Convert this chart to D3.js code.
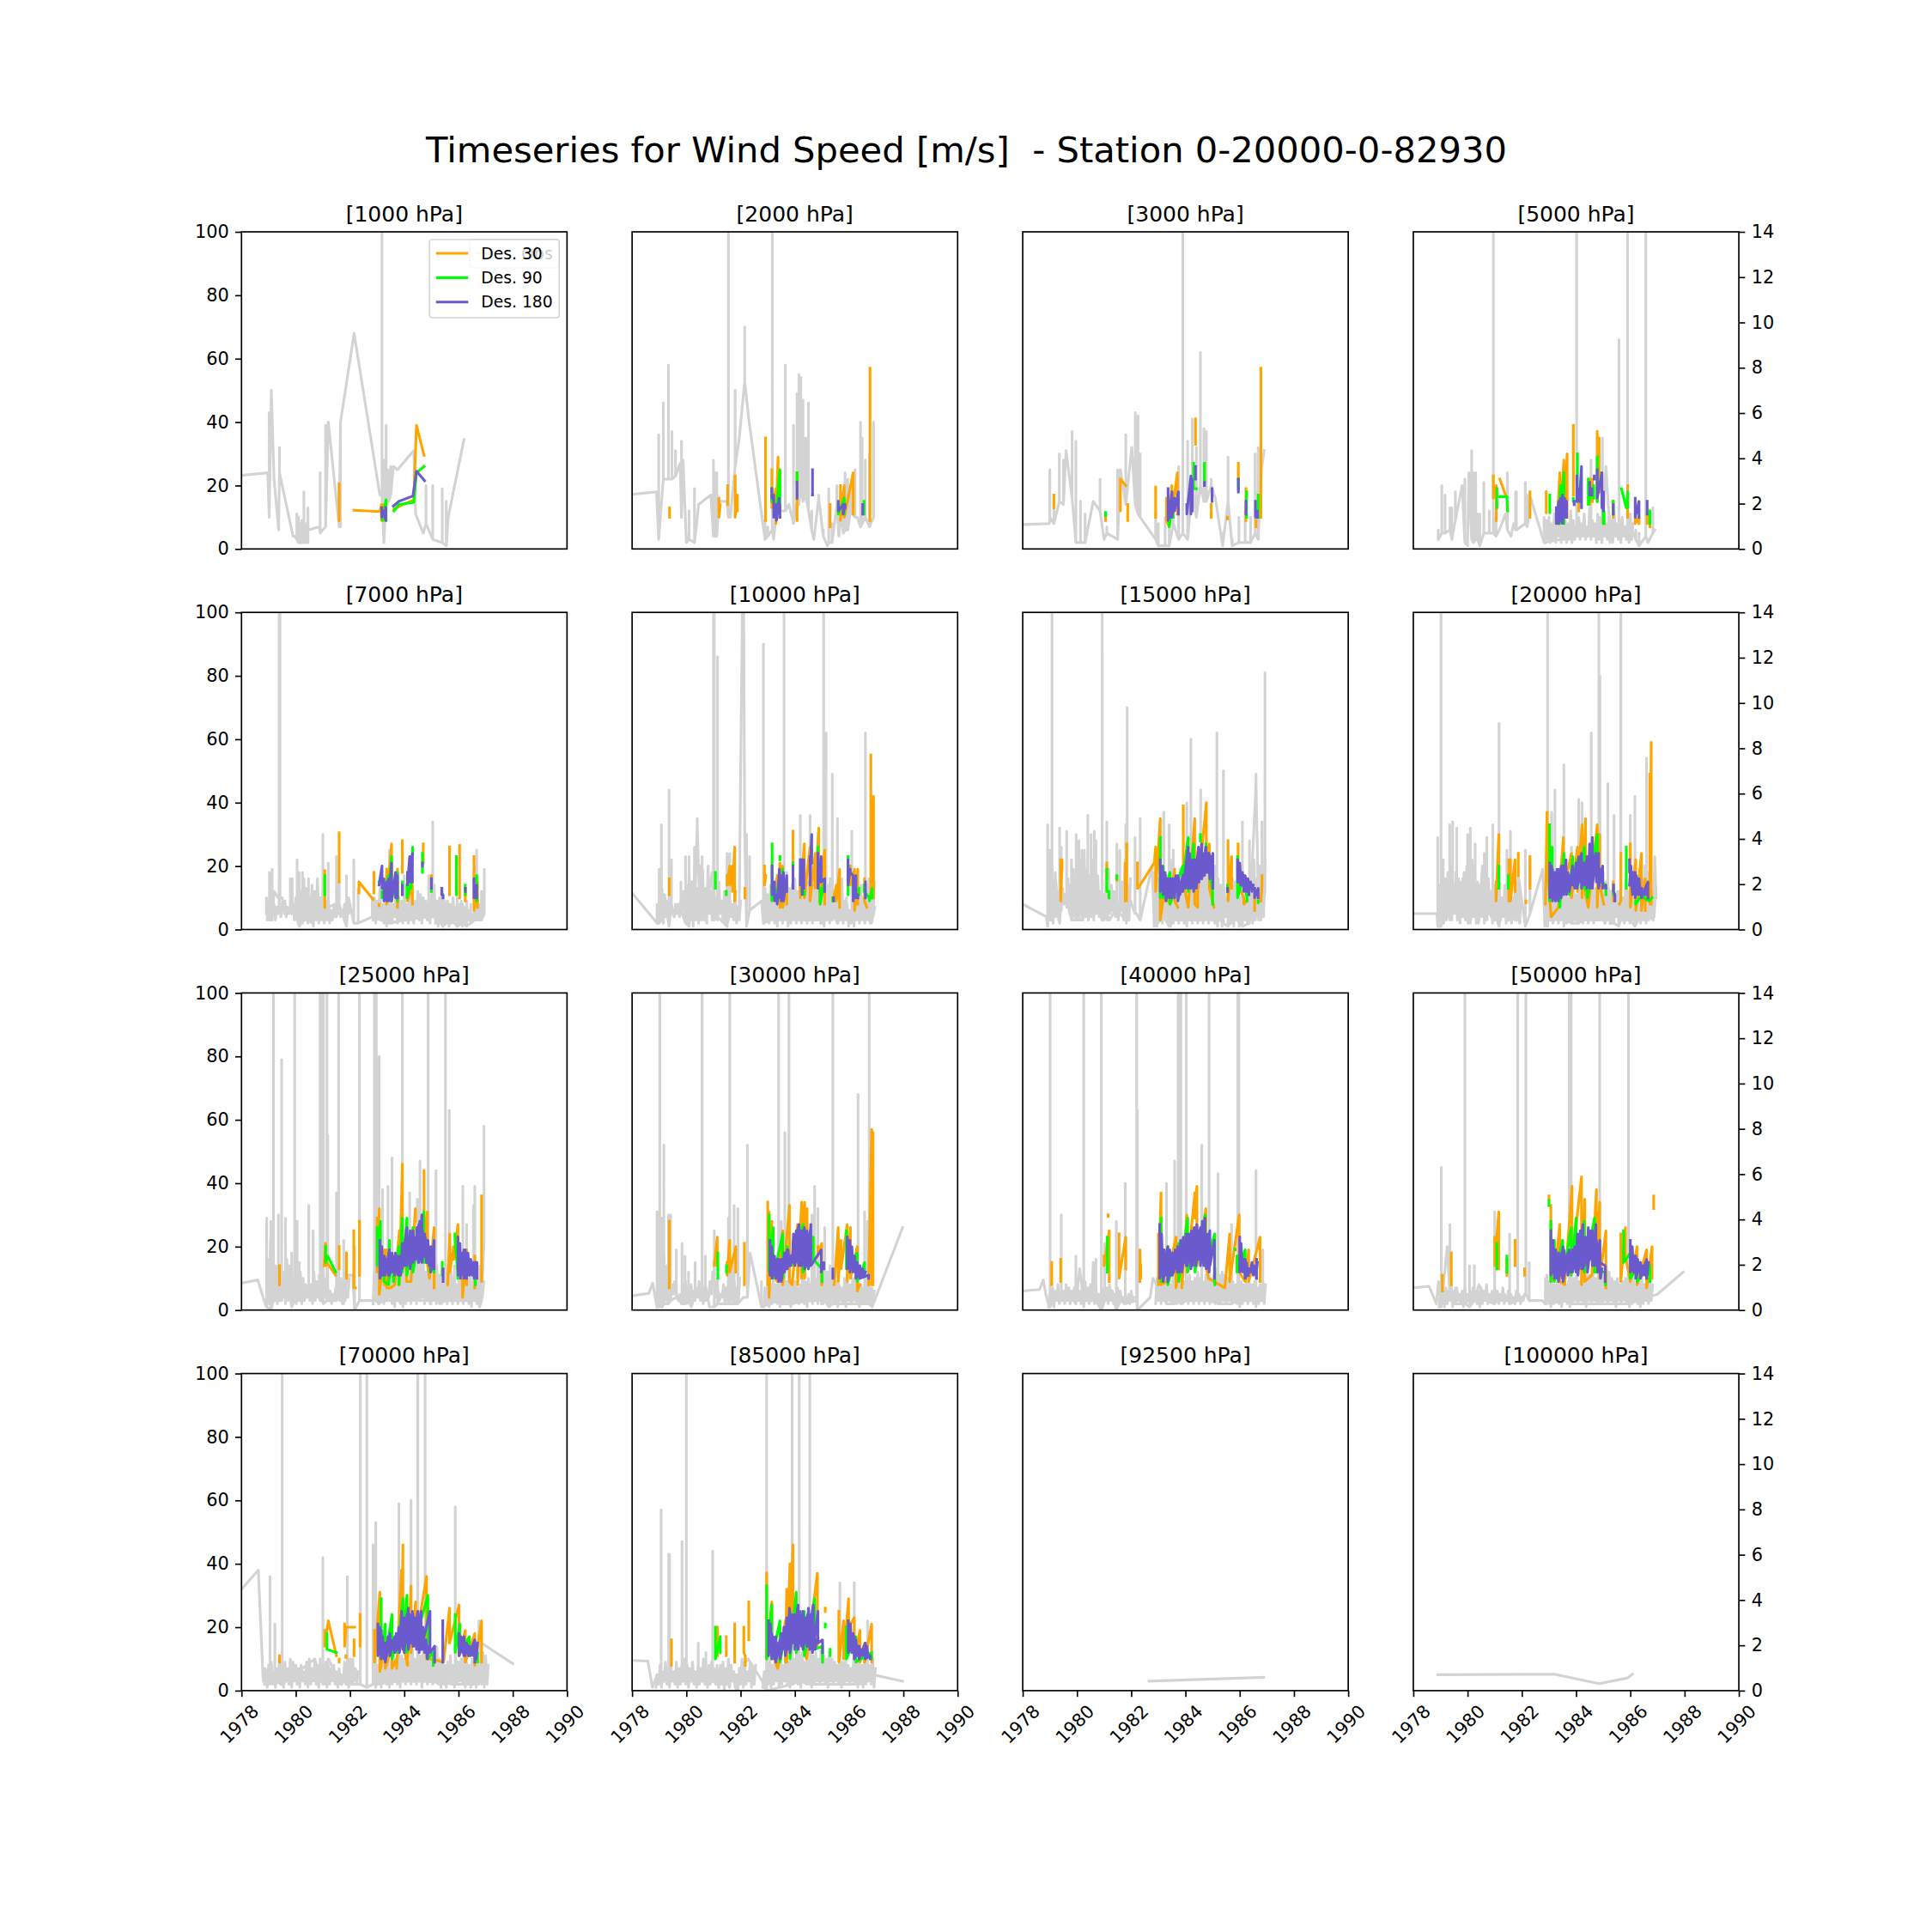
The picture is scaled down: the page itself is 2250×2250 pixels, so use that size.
<!DOCTYPE html>
<html><head><meta charset="utf-8">
<script src="https://cdn.jsdelivr.net/npm/d3@7"></script>
<style>html,body{margin:0;background:#fff}text{font-family:"DejaVu Sans";white-space:pre}</style>
</head><body><div id="chart"></div>
<script>
// Each entry: [year-1900, value, value...]; null breaks the line.
const levels=[1000,2000,3000,5000,7000,10000,15000,20000,25000,30000,40000,50000,70000,85000,92500,100000];
const xTicks=[1978,1980,1982,1984,1986,1988,1990];
const yTicks=[0,20,40,60,80,100];
const yTicksRight=[0,2,4,6,8,10,12,14];

const gray_1000=[[78,23.2],[78.97,24],[79.02,43,10],[79.1,50],[79.2,22],[79.37,6],[79.4,32,24],[79.9,4],[79.97,4],[80.04,11,3],[80.1,10,2],[80.15,8,2],[80.22,9,2],[80.3,18,2],[80.38,8,2],[80.45,13,2,6],[80.87,7],[80.9,24,5],[81.1,39,7],[81.2,40],[81.6,21,7],[81.65,7,40],[82.15,68],[83.1,17],[83.18,130,17],[83.25,28,2],[83.33,39,16],[83.42,25,15],[83.5,26,17],[83.6,26],[83.75,25],[84.35,31],[84.42,11],[84.7,5],[84.8,20,8],[85.05,20,3],[85.4,19,2],[85.55,15,1],[85.62,10],[86.2,34.5]];
const orange_1000=[[81.6,20.5,9],null,[82.15,12.2],[83.1,11.8],[83.16,14,9],[83.25,14,9],[83.32,13],null,[83.62,12.5],[83.95,14],[84.35,15.5],[84.45,39],[84.73,29.5]];
const green_1000=[[83.2,10,9],[83.33,15.5,9],null,[83.62,12],[83.8,14],[84.35,14.7],[84.45,24],[84.73,26]];
const purple_1000=[[83.17,13,10],[83.25,12],[83.32,9,13],null,[83.6,13.5],[83.8,15],[84.32,16.7],[84.45,24.5],[84.75,21.5]];

const gray_2000=[[78,17.2],[78.9,18],[78.98,36,3],[79.15,46,22],[79.34,58,22],[79.47,37,22],[79.6,31,23],[79.77,27],[79.82,34,10],[79.88,28],[80,4,2],[80.1,12,3],[80.3,19,2],[80.38,8],[80.45,14],[80.9,17],[81,28,4],[81.05,24,4],[81.12,24,4],[81.2,15],[81.5,15],[81.55,130,10],[81.62,10],[81.8,50,26],[81.95,35],[82.15,70,53],[82.3,41],[82.9,9,3],[83,7,4],[83.17,130,6],[83.22,3],[83.3,16,10],[83.42,20,12],[83.65,58,12],[83.78,14],[83.95,39,8],[84.08,49,15],[84.15,55,14],[84.22,54,20],[84.3,47,15],[84.4,35,17],[84.5,46,12],[84.62,12,6],[84.7,5,3],[84.88,17,16],[85.05,6,4],[85.2,1],[85.25,19,2],[85.37,8,2],[85.55,20,14],[85.62,4],[85.72,12],[85.78,18,5],[85.85,24,6],[85.95,22,6],[86.05,20,12],[86.22,25,10],[86.3,10],[86.42,40,7],[86.48,35,8],[86.6,28,10],[86.75,30,7],[86.9,40,10]];
const orange_2000=[[79.38,13,10],null,[81.2,16,10],[81.25,14],null,[81.52,20,14],null,[81.8,23,10],[81.88,17,12],null,[82.92,35,9],null,[83.15,25,13],[83.3,19,8],[83.38,29,14],null,[84.08,24,9],null,[84.65,17],null,[85.3,14,7],null,[85.68,20,9],[85.82,20,10],[86.15,24,11],null,[86.77,57,9]];
const green_2000=[[83.15,19,15],[83.3,14,10],[83.45,25,10],null,[84.08,24,21],null,[85.6,14,11],[85.82,16,11],null,[86.55,15,11]];
const purple_2000=[[83.15,19,16],[83.22,17,10],[83.32,14,9],[83.42,16,12],[83.45,14,10],null,[84.08,21,16],null,[84.65,25,17],null,[85.6,15,12],[85.78,14,11],[85.85,14,13],null,[86.5,14,11]];

const gray_3000=[[78,7.7],[78.98,8],[79,25,10],[79.15,15,8],[79.35,30,15],[79.5,28,14],[79.6,31],[79.82,37,16],[79.96,34,2],[80.13,15,2],[80.3,11,2],[80.6,15],[80.85,22,12],[81,3],[81.1,7,5],[81.5,25,3],[81.6,25],[81.8,36,14],[82.02,32],[82.15,43,14],[82.25,42,11],[82.33,30,10],[82.9,12,3],[83,8,1],[83.15,1],[83.25,10,1],[83.4,14,1],[83.55,18,8],[83.75,26,3],[83.9,130,5],[84.08,34,3],[84.25,41,20],[84.4,32,10],[84.55,62,20],[84.68,38,15],[84.77,37,15],[84.95,22,20],[85.1,16],[85.37,5,1],[85.57,29,15],[85.72,3,1],[85.97,10,2],[86.2,12,2],[86.4,10,2],[86.57,30,5],[86.68,32,3],[86.8,25],[86.9,31]];
const orange_3000=[[79.15,17,13],null,[81.05,11,9],null,[81.6,22,12,22],[81.8,20],null,[81.87,14,9],null,[82.9,19.5,10],null,[83.3,16,9],[83.4,7,10],[83.5,20,11],[83.7,24,11],null,[84.37,41,33],null,[84.95,14,10],null,[85.55,10,9.5],null,[85.95,27,22],null,[86.23,19,9],null,[86.6,9,7],null,[86.78,57,10]];
const green_3000=[[81.05,11.5,10.5],null,[83.4,13,7],[83.55,15,10],null,[84.3,27,19],[84.4,19],null,[84.7,27,21],null,[85.95,22,19],null,[86.25,18,10],null,[86.68,17,10]];
const purple_3000=[[83.36,19,9],[83.42,15,10],[83.5,18,10],[83.6,16,12],[83.74,18,11],null,[84.05,14,11],[84.2,23,11],[84.25,22,12],null,[84.37,26,22],null,[84.7,21,20],null,[84.98,19,15],null,[85.95,22,18],null,[86.23,15,11],null,[86.58,15,10],[86.65,12,10]];

const gray_5000=[[78.92,6,3],[79.05,20,5],[79.17,17,5],[79.35,13,6],[79.42,13,3],[79.55,18,9],[79.8,20],[79.9,22,2],[80,1],[80.05,24],[80.15,31,3],[80.22,24,2],[80.3,24,3],[80.37,11,3],[80.45,11,1],[80.6,21,5],[80.8,12,5],[80.95,130,5],[81.05,10,4],[81.17,6],[81.4,11],[81.47,24,6],[81.6,4],[81.7,8],[81.77,18,6],[81.8,18,6],[82.13,21,8],[82.2,17,7],[82.33,16],[82.82,10,2],[84.02,130,4],[84.55,28,5],[84.97,35,5],[85.1,26],[85.2,12],[85.35,2],[85.42,8],[85.5,5],[85.58,66,5],[85.72,6],[85.9,130,5],[86,9,3],[86.12,5],[86.2,6,3],[86.32,5,1],[86.57,130,4],[86.65,3,2],[86.83,13,5],[86.9,6]];
const orange_5000=[[80.95,23,16],[81.06,20,9],null,[81.19,22],[81.4,17],null,[82.3,18,10],null,[82.9,18,11.5],null,[83.3,12,8],[83.4,24,8],[83.55,28,8],[83.67,30,10],null,[83.9,39,17],null,[84.1,16,12],null,[84.5,22,14],[84.6,22,15],null,[84.78,37,15],[84.85,35,18],null,[85.03,9,8],null,[85.37,15,10],null,[85.9,20,10],null,[86.18,11,8],[86.32,10,8],null,[86.62,11,8],[86.72,10,7]];
const green_5000=[[81.08,19,13],null,[81.19,16.5],[81.45,16.5],[81.47,12],null,[83.03,17,11.5],null,[83.35,8,9],[83.43,20,8],[83.55,24,8],null,[83.9,16,15],null,[84.05,30,15],null,[84.45,22,14],[84.65,20,16],null,[84.78,29,15],null,[84.95,24,14],[85,12,8],[85.03,12,8],null,[85.37,15,11],null,[85.67,19],[85.85,13],[85.9,18,13],null,[86.72,12,8]];
const purple_5000=[[83.27,13,8],[83.36,15,8],[83.43,16,9],[83.5,17,8],[83.58,16,10],[83.65,15,10],null,[83.93,15,14],null,[84.03,23,15],[84.12,19,15],[84.2,26,13],null,[84.5,21,17],[84.58,19,17],null,[84.67,23,22],null,[84.78,25,16],[84.95,24,13],[85.01,18,12],null,[85.37,14,11],null,[86.18,16,10],[86.32,15,10],null,[86.62,15,11]];

const gray_7000=[[78.92,10,5],[79.03,18,3],[79.13,19,3],[79.2,12],[79.35,10],[79.39,130,10],[79.42,130,10],[79.5,10],[79.58,5,5],[79.8,16,6],[79.87,16,6],[80.05,22,3],[80.13,18,1],[80.25,18,3],[80.35,12,3],[80.47,16,3],[80.6,2],[80.67,7,5],[80.9,7,4],[81,30,4],[81.2,21,7],[81.45,8],[81.5,23,4],[81.6,15,8],[81.87,17,1],[81.95,10],[82.14,22,2],[82.2,2],[82.3,13,2],[82.82,10,4],[83.45,25,2],[84,17,3],[84.9,17,4],[85.05,34,4],[85.15,4],[85.35,2],[85.42,10,1],[85.55,8,2],[85.75,8,3],[85.95,10,1],[86.15,8,2],[86.3,9,1],[86.45,8,2],[86.6,20,3],[86.67,25,3],[86.75,8,3],[86.85,12,3],[86.95,19,5]];
const orange_7000=[[81.07,18.5,7],null,[81.6,30.5,15],null,[82.33,11.5,15],[82.85,9.5],null,[82.88,18,11.5],null,[83.07,8,7.5],null,[83.35,19,8],[83.53,27,9],null,[83.75,19,7],null,[83.93,28,18],null,[84.12,13,9],[84.3,14,8],null,[84.7,27,21],null,[85,17,14],null,[85.67,26,11],null,[86.04,26.5,10],null,[86.25,13,9],null,[86.57,23,6],[86.7,15,7]];
const green_7000=[[81.07,17,11],null,[83.07,15],null,[83.18,12,10],[83.43,17,10],[83.53,23,9],[83.75,18,9],null,[83.93,15,13],null,[84.1,14,10],[84.25,15,13],[84.31,26,24],null,[84.67,24,18],null,[85,13,12],null,[85.92,23,11],null,[86.25,14,11],null,[86.67,17,9]];
const purple_7000=[[83.07,14],[83.18,20,13],[83.25,16,9],[83.35,15,9],[83.43,16,9],[83.53,21,9],[83.68,18,10],[83.75,17,10],null,[83.93,14,11],null,[84.12,18,14],[84.2,23,15],[84.3,24,15],null,[84.67,21,20],null,[85,16,13],null,[85.38,13,11],[85.43,11,10],null,[86.25,13,12],null,[86.57,16,10],[86.67,14,10]];

const gray_10000=[[78,11.5],[78.92,8,2],[79,19,2],[79.08,33,3],[79.2,10],[79.36,44,1],[79.45,22,8],[79.55,5,4],[79.7,8],[79.8,15,6],[79.97,23,2],[80.1,23,1],[80.2,15],[80.3,26,3],[80.4,35,33],[80.5,20,5],[80.58,23,5],[80.65,10,3],[80.95,18],[81,130,3],[81.03,130,3],[81.15,86,4],[81.5,24,1],[81.6,24,8],[81.75,5],[81.95,7],[82.1,130],[82.15,30],[82.22,30,1],[82.33,23,6],[82.77,9],[82.84,90,2],[83.6,130,5],[84.2,36,3],[84.56,36,3],[85.06,130,3],[85.15,62,3],[85.38,49,5],[85.57,35,2],[85.7,5],[85.9,10,5],[86.1,31,5],[86.6,62,5],[86.82,15,2],[86.95,7]];
const orange_10000=[[79.37,16,11],null,[81.5,17,14],[81.6,20,14],[81.7,20,12],[81.78,26,9],[81.8,12],null,[82.16,13,10],null,[82.88,20,14],[82.93,17],null,[83.35,17,9],[83.45,21,7],[83.55,20,7],[83.7,15,8],null,[83.93,31,20],null,[84.2,16,10],[84.35,27,10],[84.56,26,9],[84.75,24,13],[84.88,32,19],[84.93,8],[85.1,25,8],null,[85.4,10,9],[85.53,14,9],[85.65,19,7],null,[86.04,20,14],[86.2,19,6],[86.32,19,8],null,[86.57,16,9],[86.65,7],null,[86.8,55,10],[86.9,42,10]];
const green_10000=[[81.07,18,13],null,[81.47,12,11],null,[83.16,27,13],[83.15,14,9],[83.3,13,10],[83.37,9],null,[83.45,23,22],null,[83.55,19,10],null,[83.93,21,19],null,[84.25,22,12],[84.35,12,11],null,[84.62,25,24],null,[84.85,26,24],null,[84.93,13,8],[85.1,16,15],null,[85.4,10,9],null,[85.96,23,11],null,[86.36,13,11],null,[86.55,14,12],[86.75,10,9],[86.85,13,10]];
const purple_10000=[[83.16,20,11],[83.25,15,9],[83.35,11,8],[83.43,19,10],[83.5,17,9],[83.58,18,9],[83.7,17,12],null,[83.93,20,13],null,[84.2,22,14],[84.27,22,11],[84.33,22,13],null,[84.56,23,14],[84.62,30,21],null,[84.85,24,13],[84.97,23,15],[85.1,16,12],null,[85.43,10,9],null,[85.96,22,14],[86.04,19,18],[86.15,17,9],[86.25,17,10],[86.32,11,10],null,[86.6,15,10]];

const gray_15000=[[78,8],[78.87,4],[78.92,33,1],[79,25],[79.08,130,3],[79.2,18,17],[79.36,32,2],[79.42,26,9],[79.62,31,10],[79.8,22,3],[79.97,30,3],[80.07,28,3],[80.18,25,3],[80.3,19],[80.4,36,8],[80.52,30,5],[80.64,31,6],[80.7,28,8],[80.93,130,3],[81,3],[81.1,34,5],[81.2,3],[81.47,27,7],[81.58,25,5],[81.8,33,3],[81.85,70,12],[82.14,29,5],[82.2,5],[82.33,35,3],[82.77,20],[82.85,18,1],[83.2,37,4],[83.4,33,1],[83.55,25,3],[84.05,40,3],[84.2,60,3],[84.56,44,3],[85.16,62,10],[85.27,3],[85.4,50,2],[85.57,12,1],[85.8,10,4],[86.1,34,1],[86.36,28,2],[86.6,49,46],[86.7,10,3],[86.82,34,5],[86.93,81,12]];
const orange_15000=[[79.4,22,9],[79.45,22,19],null,[81.1,21,16],null,[81.47,16.5,15.5],null,[81.83,27,9],[81.78,21,9],null,[82.23,21,13],[82.25,13],[82.85,21],[82.9,26,12],[83.07,35,3],[83.2,11],[83.43,8],[83.6,19,9],[83.72,7],null,[83.92,39,15],[84.1,7],[84.34,35,8],[84.45,7,12],[84.77,40,18],[84.88,27,13],[85.05,7],null,[85.57,28,9],[85.7,23,13],null,[85.94,27,14],[86.15,10,8],[86.25,9],null,[86.55,13,6],null,[86.82,17,14],[86.78,9]];
const green_15000=[[81.1,19,12],[81.18,12,10],null,[81.47,17,16],null,[83.07,29,10],[83.18,20,10],[83.43,18,8],[83.9,20,16],[84.1,29,12],[84.3,27,22],null,[84.55,30,28],null,[84.75,27,25],[85,12,8],null,[85.55,14,12],null,[85.92,23,10],[86.15,17,15],[86.27,10,9],null,[86.68,9,8.5]];
const purple_15000=[[83.07,22,12],[83.18,18,11],[83.28,15,9],[83.43,16,10],[83.5,16,10],[83.6,16,12],[83.72,17,9],[83.9,17,12],[84.1,26,13],[84.2,22,13],[84.3,22,12],[84.48,26,15],[84.6,27,16],[84.65,23,17],[84.75,26,18],[84.87,24,18],[85.01,24,13],null,[85.55,13,12],null,[85.92,22,15],[86.03,18,14],[86.15,17,12],[86.25,15,12],[86.34,13,11],null,[86.55,13,10],[86.68,13,10]];

const gray_20000=[[78,5],[78.87,5],[78.9,29,1],[79.02,130,1],[79.1,22,3],[79.2,15],[79.34,33,3],[79.45,34,6],[79.6,32,13],[79.82,16,5],[79.88,4],[80,30,3],[80.1,32,2],[80.22,20],[80.28,27,5],[80.4,11,2],[80.55,20],[80.62,24,5],[80.71,29,7],[80.93,33,3],[81,6],[81.16,65,1],[81.25,7],[81.45,25,3],[81.52,3],[81.58,31,5],[81.75,5,3],[81.87,17],[82.13,25,1],[82.3,22,5],[82.77,19],[82.85,12,1],[82.95,130,3],[83.1,37,3],[83.22,44,4],[83.55,52,3],[83.83,26,2],[84.1,41,2],[84.22,40,3],[84.56,62,3],[84.84,130,3],[84.88,80,3],[85.17,46,12],[85.28,2],[85.4,36,2],[85.57,12,1],[85.65,130,3],[85.85,14,3],[86,36,3],[86.17,42,1],[86.6,54,8],[86.7,14,4],[86.85,3],[86.9,23],[86.95,10]];
const orange_20000=[[81.05,15,9],[81.15,30,13],null,[81.52,22,9],[81.58,22,9],[81.75,22,12],null,[81.87,24,17],null,[82.15,9,8.5],null,[82.3,23,13],null,[82.87,8],[82.93,37,21],[83.08,4],[83.35,7],[83.53,29,12],[83.83,24,10],[84.05,26,12],[84.22,33,10],[84.35,35,11],[84.45,7],[84.78,33,7],[84.87,30,14],[85.02,8],null,[85.37,15,9],null,[85.65,24,9],[85.6,8],null,[86,27,7],[86.2,22,6],[86.41,24,6],[86.55,16,6],null,[86.72,49,8],[86.77,59,8]];
const green_20000=[[81.15,20,13],null,[81.5,17,13],null,[83.02,33,9],[83.12,26,12],[83.4,9,7],[83.55,24,14],[83.75,17,11],[83.87,23,17],[84.05,22,13],[84.3,26,13],[84.42,12,10],[84.78,30,16],[85.1,14,11],null,[85.38,13,11],null,[85.85,26,13],null,[86.2,9,8],[86.5,12,10],[86.68,9],[86.8,10]];
const purple_20000=[[83.03,21,10],[83.13,19,9],[83.24,18,9],[83.35,19,9],[83.45,20,10],[83.55,20,11],[83.63,22,12],[83.75,15,12],[83.87,20,15],[84.03,20,13],[84.2,24,13],[84.3,21,14],[84.4,22,13],[84.51,24,13],[84.6,29,13],[84.72,24,18],[84.83,24,13],[84.98,20,13],[85.1,14,13],null,[85.38,14,12],[85.43,11,9],null,[85.97,22,18],[86.08,18,11],[86.18,18,10],[86.3,16,11],[86.41,13,10],[86.5,12],[86.65,15,10]];

const gray_25000=[[78,8.5],[78.6,9.5],[78.87,2],[78.93,29,1],[79.08,28,0],[79.18,130,3],[79.36,30,3],[79.48,79,3],[79.62,29,8],[79.75,8],[79.85,18,1],[79.96,130,3],[80.05,28,3],[80.13,15,3],[80.25,3],[80.48,33,5],[80.64,25,3],[80.8,5],[80.9,130,3],[80.97,130,3],[81.02,130,2],[81.15,130,3],[81.18,55,3],[81.5,37,3],[81.58,130,4],[81.77,22,2],[81.9,11],[82.1,11],[82.17,20,0],[82.35,130,3],[82.83,3],[82.9,130,3],[82.97,130,3],[83.07,80,2],[83.2,38,3],[83.4,39,3],[83.55,48,3],[83.93,130,3],[84.2,37,3],[84.48,35,5],[84.58,47,3],[84.88,130,3],[85.17,44,15],[85.3,2],[85.52,130,3],[85.66,63,3],[85.85,14,3],[86.16,39,3],[86.3,27,3],[86.55,33,3],[86.6,39,3],[86.7,4],[86.78,14,1],[86.85,3],[86.94,58,22]];
const orange_25000=[[79.4,14,8],null,[81.05,14],[81.1,21,14],[81.15,15],[81.47,11],null,[81.6,20,13],null,[81.87,18,10],null,[82.14,25,7],[82.2,7],null,[82.35,28,11],null,[83,29,12],[83.08,32,5],[83.27,19,8],[83.35,19,7],[83.5,7],[83.65,8],[83.82,25,8],[83.93,46,17],[84.08,12,9],[84.25,9],[84.41,32,28],null,[84.73,44,18],[84.85,31,15],[84.93,10],[85.1,26,7],null,[85.6,8],[85.68,24,12],[85.82,20,16],[85.98,27,18],[86.15,9,4],[86.3,19,8],null,[86.6,17,7],null,[86.85,36,9]];
const green_25000=[[81.1,20,15],[81.18,17],[81.47,12],null,[83,26,14],[83.12,28,10],[83.25,17,9],[83.43,8],[83.45,22,10],[83.6,16,9],[83.8,20,8],[83.93,29,12],[84.1,29,11],[84.32,26,12],[84.72,31,15],[84.95,15,12],[85.1,14,12],null,[85.4,15,11],null,[85.87,24,22],[85.97,12,10],null,[86.34,12,11],null,[86.62,14,8]];
const purple_25000=[[83.1,22,10],[83.18,16,11],[83.3,16,11],[83.45,19,11],[83.55,18,12],[83.65,16,11],[83.77,17,11],[83.87,17,11],[83.93,21,15],[84.1,26,14],[84.22,25,13],[84.33,25,15],[84.43,22,16],[84.54,27,15],[84.65,30,15],[84.75,24,17],[84.85,22,15],[84.98,19,12],[85.1,22,13],null,[85.43,13,9],null,[85.98,23,11],[86.07,18,10],[86.2,19,10],[86.3,18,10],null,[86.58,15,10],[86.68,15,10]];

const gray_30000=[[78,4.5],[78.62,5.3],[78.76,8.5],[78.85,4],[78.92,31,1],[79.02,130,1],[79.1,29,1],[79.17,52,2],[79.34,30,2],[79.42,30,3],[79.63,19,4],[79.84,21,2],[79.95,17,2],[80.08,12,3],[80.18,7,1],[80.32,15,5],[80.58,130,4],[80.7,17,8],[80.85,1],[81.03,25,1],[81.15,10,2],[81.55,29,2],[81.6,130,2],[81.76,33,2],[81.9,32,2],[82.1,4],[82.25,52,4],[82.35,18],[82.77,9,1],[83.4,130,3],[83.5,28,2],[83.63,56,2],[83.78,130,2],[84.63,30,3],[84.73,39,3],[84.85,32,3],[85.1,26,3],[85.25,1],[85.4,130,2],[85.6,24,2],[86.33,68,2],[86.57,31,2],[86.68,28,2],[86.74,130,2],[86.85,6,1],[87.97,26]];
const orange_30000=[[79.37,28,7],null,[81.03,15,14],[81.14,23,14],null,[81.5,15,11],[81.6,22,12],[81.82,20,12],null,[82.14,21,8],null,[83,34,8],[83.05,31,4],[83.15,28,12],[83.35,9],[83.55,25,8],[83.8,33,9],[83.9,8],[84.1,27,8],[84.25,34,10],[84.36,34,10],[84.45,32,14],null,[84.85,20,17],[84.99,21,8],null,[85.45,8],[85.6,26,9],[85.7,22,13],[85.93,27,9],[86.05,26,10],[86.3,20,6],[86.4,8],null,[86.72,8],[86.83,57,8],[86.88,56,8]];
const green_30000=[[81.16,18,10],null,[81.48,14,12],null,[83.05,30,12],[83.2,26,10],[83.55,24,10],[83.72,20,15],[83.87,16,14],[84.3,27,12],[84.5,15,13],[84.68,23,16],[85,13,9],null,[85.9,25,13],[86.3,18,9],[86.4,13,10],[86.57,15,11]];
const purple_30000=[[83.08,22,11],[83.16,18,10],[83.28,15,11],[83.4,16,9],[83.5,16,9],[83.62,18,12],[83.72,19,13],[83.83,17,14],[84.15,27,14],[84.25,25,14],[84.36,25,13],[84.46,24,14],[84.59,27,14],[84.97,19,12],[85.07,15,13],null,[85.4,13,10],null,[85.93,23,13],[86.03,22,12],[86.15,17,12],[86.25,15,10],[86.39,12,10],[86.72,11,10]];

const gray_40000=[[78,6],[78.62,6.5],[78.76,9.5],[78.85,5],[78.95,2],[79.01,130,1],[79.2,5,4],[79.42,30,3],[79.8,4],[79.96,17,2],[80.1,13],[80.25,130,3],[80.55,3],[80.6,15],[80.7,16,3],[80.9,130,0],[81.02,21,3],[81.12,7],[81.3,6],[81.45,28,0],[81.6,3],[81.78,40,2],[82.2,130,3],[82.23,63,0],[82.7,4],[82.8,10],[83.3,40,2],[83.6,47,2],[83.73,130,3],[83.83,130,2],[84.03,130,3],[84.6,52,3],[84.87,130,3],[85.2,43,2],[85.7,27,2],[85.93,130,3],[85.97,130,3],[86.6,44,3],[86.85,19,3],[86.9,5]];
const orange_40000=[[79.07,15,8],null,[79.4,16,9],null,[81.15,30,29.5],null,[81,17,14],[81.19,25,9],null,[81.55,24,10],[81.8,23,13],null,[82.35,14,10],[82.32,19,9],null,[83,24,8],[83.1,37,8],[83.3,9],[83.65,23,7],[83.87,22,7],[84.05,30,12],[84.35,37,29],[84.42,39,14],[84.75,32,14],[84.85,10],[85.45,7],[85.63,24,9],[85.98,30,12],[86.2,9],[86.33,19,9],[86.75,23,9]];
const green_40000=[[81.12,23,12],null,[83.1,29,9],[83.35,20,8],[83.75,21,9],[84.08,29,12],[84.35,26,12],[84.73,30,14],[85.08,24,8],null,[85.83,19,19.2],null,[85.9,17,12],[86.2,19,10]];
const purple_40000=[[83.05,27,10],[83.18,18,9],[83.35,20,9],[83.52,18,11],[83.7,19,12],[83.87,21,12],[84.03,24,14],[84.2,23,13],[84.38,25,14],[84.55,26,14],[84.72,29,14],[84.9,25,14],[85.07,22,10],null,[86,23,12],[86.2,16,10],[86.32,12,11],null,[86.62,16,10]];

const gray_50000=[[78,7],[78.58,7.5],[78.85,2],[78.93,9],[79.03,45,1],[79.25,20],[79.35,27,4],[79.55,7,2],[79.9,130,2],[80.07,14,1],[80.25,14,3],[80.42,8],[80.68,3],[81,31,2],[81.25,5],[81.36,5],[81.55,24,2],[81.85,130,3],[82.15,130,5],[82.27,15,3],[82.75,3],[82.87,10,2],[83.75,130,3],[83.78,130,3],[83.82,130,2],[84.87,130,2],[85.93,130,2],[87,5],[87.95,12]];
const orange_50000=[[79.07,11,6],null,[79.4,18,8],null,[81,23,14],[81.15,31,13],null,[81.45,16,11],null,[81.75,22,14],null,[82.1,13,11],null,[83,36,35],null,[83.07,33,9],[83.2,10],[83.4,27,9],[83.58,8],[83.85,39,15],[84.2,42,8],[84.32,35,9],[84.58,11],[84.75,38,12],[84.87,34,10],[85.1,25,7],null,[85.65,24,9],[85.82,26,17],[86,9],[86.25,20,8],[86.6,19,7],[86.8,20,10],null,[86.86,36,32]];
const green_50000=[[81.08,21,13],null,[81.45,17,12],null,[83,34.5,33],null,[83.07,28,9],[83.2,22,9],[83.5,22,10],[83.82,26,11],[84,29,12],[84.3,28,12],[84.68,29,12],[85.08,12,8],null,[85.75,25,15],[86,18,10],[86.25,13,9],[86.72,14,9]];
const purple_50000=[[83.07,25,11],[83.2,19,10],[83.35,18,9],[83.52,20,9],[83.7,18,11],[83.87,19,12],[84.07,20,11],[84.25,27,13],[84.42,20,12],[84.6,25,14],[84.73,27,15],[84.88,22,15],[85.07,14,9],null,[86,22,12],[86.2,17,10],[86.37,15,10],[86.6,16,10]];

const gray_70000=[[78,32],[78.62,38],[78.8,3],[78.87,7],[79.05,36,2],[79.23,21,3],[79.5,130,2],[80.7,10],[81,42,2],[81.2,10],[81.5,5],[81.7,2],[81.9,36,5],[82.1,10,2],[82.38,130,2],[82.62,130,1],[82.85,46,2],[82.95,53,2],[83.8,59,3],[84.25,60,3],[84.5,130,3],[84.77,130,3],[85.88,58,2],[86.75,22,2],[86.85,15],[88,8.5]];
const orange_70000=[[79.4,11,9],null,[81.07,19,14],[81.2,22],[81.5,11],null,[81.6,10,9],null,[81.8,21,14],[81.85,20],[82.17,20],null,[81.85,11,10.5],null,[82.15,16,11],null,[82.37,24,14],null,[82.9,19,9],[83.1,31,6],[83.3,14,7],[83.55,14,7],[83.72,10,7],[83.9,38,15],[83.95,46,15],[84.12,8],[84.25,33,12],[84.42,28,15],[84.82,36,10],[84.95,10],[85.45,9],[85.67,26,15],[86.02,27,11],[86.25,19,9],[86.6,18,8],[86.85,22,9]];
const green_70000=[[81.15,18,13],[81.5,12],null,[83.15,29,10],[83.3,21,10],[83.55,24,10],[83.75,18,12],[83.95,29,14],[84.1,30,12],[84.35,20,14],[84.87,30,10],[85.07,12,8],null,[85.88,24,12],[86.05,21,12],[86.4,17,11],[86.7,12,9]];
const purple_70000=[[83.03,21,11],[83.15,19,10],[83.3,15,9],[83.47,18,11],[83.65,17,12],[83.82,17,12],[84,21,12],[84.15,26,13],[84.32,24,14],[84.5,25,15],[84.62,25,13],[84.95,25,12],[85.12,14,9],null,[85.42,22,9],null,[86.02,18,11],[86.2,17,11],[86.37,14,11],[86.6,16,9]];

const gray_85000=[[78,9.5],[78.58,9.3],[78.75,1],[78.92,5],[79.07,57,3],[79.35,43,3],[79.38,43,3],[79.45,3],[79.62,6],[79.84,47,3],[80,130,3],[80.44,15,3],[80.72,12,3],[80.97,44,3],[81.2,2],[81.6,8],[81.85,0],[82.05,8],[82.28,10],[82.8,3],[82.96,130,0],[83.9,130,2],[84.16,130,3],[84.55,130,2],[85.66,34,2],[86.19,34,2],[86.68,22,3],[86.9,5],[87.97,3]];
const orange_85000=[[79.45,16,8],null,[81.15,20,11],null,[81.47,17,11],null,[81.78,21,9],null,[82.12,20,12],[82.17,11,8],null,[82.3,28,16],null,[82.96,37,10],[83.15,28,12],[83.37,7],[83.65,22,9],[83.7,32,9],[83.82,40,14],[83.93,46,24],[84.43,10],[84.83,37,14],null,[85.12,26,25],null,[85.62,25,9],[85.8,22,10],[85.98,29,20],[86.19,23,10],[86.4,19,9],[86.57,15,9],[86.83,21,9]];
const green_85000=[[81.07,20,10],[81.25,17,12],null,[82.96,33,10],[83.15,27,10],[83.45,22,9],[83.82,25,10],[84.05,31,12],[84.35,25,11],[84.73,29,13],[85.02,14,9],null,[85.12,21,20],null,[85.3,13,11],null,[85.9,20,10],[86.25,17,9],[86.83,12,10]];
const purple_85000=[[83.03,22,11],[83.15,18,10],[83.3,17,9],[83.45,16,10],[83.65,19,11],[83.82,21,12],[84,24,13],[84.12,27,13],[84.3,25,13],[84.47,24,14],[84.68,27,13],[84.85,25,15],[85.02,16,12],null,[85.97,22,12],[86.19,17,10],[86.37,14,10],[86.6,15,10],[86.78,11,10]];

const gray_92500=[[82.66,3],[86.88,4.2]];
const gray_100000=[[78.9,5],[83.2,5.2],[84.85,2.2],[85.9,4],[86.08,5.2]];

// Densely sampled stretches: [first year-1900, readings one sampling step apart].
const sampleStep=0.05;
const dense_5000=[[82.85,[2,9,3,10,2,8,3,11,2,9,4,10,2,7,3,9,2,8,3,12,2,9,3,7,4,10,3,8,4,11,3,7,4,13,3,9,4,8,2,11,3,10,2,9,4,8,3,10,2,9,3,12,4,8,3,9,2,10,4,7,3,9,2,11,3,8]]];
const dense_7000=[[78.95,[3,9,4,11,5,8,3,7,5,10,4,8,6,9,4,7,5,6,5,8,3,10,6,13,3,12,2,16,3,13,2,10,3,14,1,12,3,16,2,10,3,12,2,9,3,10,2,6,3,7,4,6,5,7,4,6,5,8,4,7,5,6]],[82.85,[3,10,2,9,4,13,3,8,2,11,1,12,3,9,2,8,4,14,2,10,3,9,2,11,3,8,2,13,3,10,2,9,4,12,3,11,2,10,4,9,3,8,2,11,4,14,3,9,4,10,5,13,4,9,2,7,1,8,2,9,3,7,4,6]],[85.15,[2,8,1,7,3,8,2,6,3,9,1,8,2,10,3,6,1,8,2,9,1,7,2,8,3,6,2,5,3,7,4,9,3,8,4,9]]];
const dense_10000=[[78.95,[2,9,3,13,2,11,4,9,3,8,5,6,4,8,5,7,4,9,6,12,3,14,2,18,3,15,1,20,3,13,2,14,3,19,4,13,2,20,5,12,3,16,4,10,3,15,5,9,3,12,2,8,3,9,4,8,3,12,2,7,3,9]],[82.85,[2,13,3,11,2,14,3,12,2,16,1,13,3,15,2,10,3,18,1,13,2,14,3,16,2,12,3,18,2,15,3,17,2,15,3,18,2,14,3,20,3,13,2,17,4,19,3,14,4,16]],[84.98,[2,14,1,13,3,10,2,12,3,9,4,13,2,11,3,16,2,9,3,8,1,6,2,10,1,8,3,12,2,14,3,10,2,14,3,16,2,12,4,15]]];
const dense_15000=[[78.92,[2,16,3,20,2,14,4,12,3,9,6,13,8,11,7,16,5,14,3,19,4,16,3,20,5,22,3,25,4,18,3,17,4,22,3,20,5,17,4,12,3,11,4,15,3,19,5,14,6,12,4,10,3,8,6,15,3,22,2,14,3,16]],[82.85,[2,14,1,16,3,18,2,15,4,17,3,20,1,22,2,16,3,17,2,19,3,15,2,20,1,18,3,22,2,19,3,23,2,17,3,19,2,18,3,20,2,15,3,18,4,20,2,16,3,14,1,12]],[84.98,[3,20,2,15,1,12,3,14,2,13,4,10,3,14,2,16,1,15,3,12,1,10,2,8,3,14,2,15,3,17,2,22,3,16,4,20,3,18,4,22]]];
const dense_20000=[[78.92,[1,14,3,12,2,16,3,18,4,20,3,14,5,18,3,16,2,15,4,18,3,20,2,16,3,22,4,17,2,15,3,14,4,17,2,12,3,16,5,12,2,14,3,13,2,15,3,10,4,14,2,12,3,11,2,10,4,15,3,13,2,10]],[82.85,[2,12,1,14,3,10,2,16,3,13,2,15,3,14,1,11,2,10,3,13,2,16,3,11,2,14,3,15,2,14,3,16,2,18,3,16,2,13,3,14,4,12,3,18,2,15,3,13,2,12]],[84.98,[3,14,2,9,4,12,2,8,3,10,4,12,2,11,3,10,2,16,3,12,2,9,3,10,2,8,3,14,2,16,3,20,2,18,3,14,4,12,4,13]]];
const dense_25000=[[78.92,[1,16,2,22,1,18,3,14,2,10,3,9,4,12,2,16,3,14,4,10,3,15,2,13,3,12,2,10,3,8,4,7,3,8,2,12,3,9,4,11,3,8,5,10,4,8,3,6,2,5,3,7,4,9,3,10,2,8,3,6,4,10]],[82.85,[2,12,3,10,2,14,3,11,2,13,3,10,4,12,2,9,1,11,3,13,2,10,1,12,2,10,3,14,2,15,3,16,2,13,3,14,4,15,2,12,3,13,2,16,3,12,4,14,3,11]],[84.98,[2,12,3,15,2,11,3,10,2,9,3,13,2,10,3,12,2,10,3,8,2,10,3,12,2,11,3,10,2,12,1,9,3,8,2,12,3,8,4,9]]];
const dense_30000=[[78.92,[1,12,2,15,1,18,3,14,2,10,3,8,5,9,6,4,3,5,2,8,3,9,2,7,3,8,2,6,3,7,4,9,3,7,2,6,3,5,4,9,5,12,7,9,4,6,3,5,4,8,2,7,3,12,2,15,3,9,2,7,3,10]],[82.85,[1,7,2,9,1,8,2,10,3,8,2,9,1,7,2,11,3,9,2,8,1,10,2,9,3,7,2,8,3,12,2,9,1,10,3,8,2,11,3,10,2,12,3,9,2,10,3,12,2,14,3,10]],[84.98,[2,8,3,7,2,10,1,9,3,7,2,9,1,8,3,7,2,10,1,9,3,8,2,10,3,12,2,9,1,8,2,7,3,12,2,9,3,7,2,6]]];
const dense_40000=[[78.95,[1,5,2,7,1,6,3,8,2,5,3,6,2,8,3,7,2,6,3,7,2,9,3,6,2,8,1,9,3,7,2,8,3,6,2,7,3,5,2,6,1,7,3,6,2,8,3,6,2,5,3,7,2,6,3,4,2,3,3,5,2,6,3,4]],[82.9,[2,10,3,9,2,8,3,10,2,9,3,8,2,11,3,9,2,10,3,8,2,9,3,10,2,11,3,9,2,10,3,12,2,10,3,9,2,11,3,12,2,10,3,11,2,13,3,11,2,12,3,11,2,10,3,9,2,9,3,8,2,10,1,9,2,8,3,10,2,9,3,8,2,9,1,7,2,8,3,9,2,8]]];
const dense_50000=[[78.95,[1,6,2,5,1,7,2,6,3,8,1,6,2,7,3,5,2,6,1,7,2,5,3,6,2,7,3,4,2,6,1,7,2,6,3,8,2,5,3,6,2,7,3,6,2,5,3,7,2,4,3,6,2,5,3,4,2,6,3,5,2,4,3,5]],[82.87,[2,11,3,9,1,10,2,8,3,11,2,9,1,10,3,8,2,9,1,11,2,10,3,12,2,9,3,11,2,10,1,12,3,11,2,14,3,10,2,12,3,13,2,11,3,14,2,12,3,10,2,9,1,10,3,8,2,9,3,10,2,11,1,9,2,10,3,8,2,9,1,10,2,8,3,9,2,10,3,8]]];
const dense_70000=[[78.85,[2,6,1,8,3,9,2,6,1,7,3,10,2,8,1,9,3,7,2,10,1,9,3,8,2,7,1,8,3,6,2,9,1,10,2,7,3,9,2,8,1,10,3,7,2,9,1,8,2,7,3,8,2,6,1,7,2,5,3,9,2,8,1,10,2,9,3,7,2,6]],[82.95,[1,8,2,10,1,9,3,8,2,12,1,9,2,11,3,10,2,9,1,11,3,10,2,12,3,9,2,13,3,10,2,12,3,11,1,14,3,12,2,15,3,12,2,13,3,14,2,10,1,9,2,8,1,9,3,11,2,8,1,10,2,9,3,10,2,12,1,9,2,8,1,10,2,9,1,8,3,10,2,12,1,11,2,8]]];
const dense_85000=[[78.88,[1,5,2,8,1,6,3,9,2,7,1,8,3,6,2,9,1,7,2,8,3,10,2,8,1,7,3,9,2,6,1,8,2,7,3,10,2,7,1,8,2,9,3,7,2,8,1,6,2,7,3,5,2,6,1,8]],[81.2,[1,8,2,9,0,7,2,10,1,8,3,6,1,5,0,7,2,10,1,8,2,6,3,9,1,7,2,8]],[82.82,[1,6,0,9,2,11,1,8,2,12,3,9,1,10,2,8,3,11,2,9,1,12,2,10,3,13,2,11,1,12,3,9,2,13,3,14,1,11,2,12,3,10,2,14,3,11,2,10,1,12,3,10,2,9,3,8,2,11,1,9,2,10,3,8,2,7,3,10,2,11,1,9,2,8,1,10,2,9,3,8,2,10,1,7]]];
const purpleFill_15000=[[83.1,[13,20,12,18,11,16,10,15,11,16,10,17,12,16,11,15,12,17,13,19,14,24,13,21,14,22,13,20,15,25,16,24,17,26,18,24,16,23]],[85.95,[15,21,14,18,13,17,12,16,13,15,12,14]]];
const purpleFill_20000=[[83.05,[11,20,10,18,9,19,10,18,11,20,12,19,11,18,13,17,14,19,13,21,14,23,15,22,14,21,15,23,14,27,16,24,17,23,15,22,14,19]],[85.97,[14,20,12,18,11,17,12,16,11,13,11,12,11,14]]];
const purpleFill_25000=[[83.12,[12,20,11,17,12,16,11,18,12,17,13,18,12,16,11,17,13,19,14,24,15,23,14,24,16,23,17,26,15,28,16,25,17,23,15,22,14,20]],[86,[12,21,11,18,11,19,12,18,11,16,11,15,12,15]]];
const purpleFill_30000=[[83.1,[12,20,11,17,10,16,11,15,10,16,12,18,13,19,14,17,15,24,14,25,15,24,14,23,15,26,14,25,13,18]],[85.95,[14,22,13,20,13,17,12,15,11,14,11,13,11,12]]];
const purpleFill_40000=[[83.07,[11,24,10,19,11,18,10,19,11,18,12,19,13,20,12,22,14,23,15,22,14,24,15,25,14,26,15,27,16,25,15,28,14,25,13,24,12,20]],[86,[13,21,12,16,11,15,11,13,12,15,11,14,11,15]]];
const purpleFill_50000=[[83.1,[12,22,11,19,10,17,11,18,10,19,12,17,13,19,12,18,13,20,12,24,14,25,13,20,14,23,15,26,16,25,15,24,14,22,12,18,10,13]],[86.02,[13,20,12,17,11,16,12,15,11,14,11,15,11,15]]];
const purpleFill_70000=[[83.05,[12,20,11,17,10,15,11,17,12,16,13,16,12,18,13,20,14,25,13,23,15,24,14,24,15,25,14,23,13,24,12,22,13,20,12,16,10,14]],[86.05,[12,17,12,16,11,15,12,14,11,13,11,15,10,15]]];
const purpleFill_85000=[[83.05,[12,21,11,17,10,16,11,15,12,18,13,20,14,23,13,26,14,24,15,23,14,26,15,25,14,24,15,23,14,26,13,24,12,20,13,16]],[86,[13,21,12,18,11,16,11,14,12,13,11,14,11,14,11,11]]];

const grayRuns=[gray_1000,gray_2000,gray_3000,gray_5000,gray_7000,gray_10000,gray_15000,gray_20000,gray_25000,gray_30000,gray_40000,gray_50000,gray_70000,gray_85000,gray_92500,gray_100000];
const denseRuns=[[],[],[],dense_5000,dense_7000,dense_10000,dense_15000,dense_20000,dense_25000,dense_30000,dense_40000,dense_50000,dense_70000,dense_85000,[],[]];
const orangeRuns=[orange_1000,orange_2000,orange_3000,orange_5000,orange_7000,orange_10000,orange_15000,orange_20000,orange_25000,orange_30000,orange_40000,orange_50000,orange_70000,orange_85000,[],[]];
const greenRuns=[green_1000,green_2000,green_3000,green_5000,green_7000,green_10000,green_15000,green_20000,green_25000,green_30000,green_40000,green_50000,green_70000,green_85000,[],[]];
const purpleRuns=[purple_1000,purple_2000,purple_3000,purple_5000,purple_7000,purple_10000,purple_15000,purple_20000,purple_25000,purple_30000,purple_40000,purple_50000,purple_70000,purple_85000,[],[]];
const purpleFillRuns=[[],[],[],[],[],[],purpleFill_15000,purpleFill_20000,purpleFill_25000,purpleFill_30000,purpleFill_40000,purpleFill_50000,purpleFill_70000,purpleFill_85000,[],[]];

const seriesColors=["#d3d3d3","#ffa500","#00ff00","#6a5acd"];
const legendLabels=["Des. 30","Des. 90","Des. 180"];
const suptitle="Timeseries for Wind Speed [m/s]  - Station 0-20000-0-82930";

const SIZE=2250,pw=379.1,ph=369.3,stepX=454.9,stepY=443.2,left0=281.25,top0=270;
const lw=3.125,spine=1.67,tick=7.3,titleFs=25,tickFs=20.83,legFs=18.75;
const svg=d3.select("#chart").append("svg").attr("width",SIZE).attr("height",SIZE).attr("viewBox",`0 0 ${SIZE} ${SIZE}`).style("display","block");
svg.append("rect").attr("width",SIZE).attr("height",SIZE).attr("fill","#fff");
svg.append("defs").append("clipPath").attr("id","plotClip").append("rect").attr("width",pw).attr("height",ph);
svg.append("text").attr("x",1125.5).attr("y",189).attr("text-anchor","middle").attr("font-size",41.67).attr("fill","#000").attr("xml:space","preserve").text(suptitle);

const x=d3.scaleLinear().domain([1978,1990]).range([0,pw]);
const y=d3.scaleLinear().domain([0,100]).range([ph,0]);
const yRight=d3.scaleLinear().domain([0,14]).range([ph,0]);
const line=d3.line().defined(d=>d!==null).x(d=>x(1900+d[0])).y(d=>y(d[1]));
// colour series: plain zig-zag through the readings
const expand=runs=>runs.flatMap(r=>r===null?[null]:r.slice(1).map(v=>[r[0],v]));
// grey series: a reading with several values is a spike that leaves from and returns to its last value
const expandGray=runs=>runs.flatMap(r=>{const vs=r.slice(1);return (vs.length>1?[vs[vs.length-1],...vs]:vs).map(v=>[r[0],v]);});
const expandSampled=runs=>runs.flatMap(([start,vals])=>[...vals.map((v,k)=>[start+k*sampleStep,v]),null]);

function styleAxis(g){
  g.select(".domain").remove();
  g.selectAll(".tick line").attr("stroke","#000").attr("stroke-width",spine);
  g.selectAll(".tick text").attr("fill","#000").attr("font-size",tickFs).attr("font-family","DejaVu Sans");
}
levels.forEach((lev,i)=>{
  const col=i%4,row=Math.floor(i/4);
  const g=svg.append("g").attr("transform",`translate(${left0+col*stepX},${top0+row*stepY})`);
  const plot=g.append("g").attr("clip-path","url(#plotClip)");
  const layers=[[expandGray(grayRuns[i]),0],[expandSampled(denseRuns[i]),0],[expand(orangeRuns[i]),1],[expand(greenRuns[i]),2],[expand(purpleRuns[i]),3],[expandSampled(purpleFillRuns[i]),3]];
  layers.forEach(([pts,k])=>{
    if(!pts.length)return;
    plot.append("path").attr("d",line(pts)).attr("fill","none").attr("stroke",seriesColors[k]).attr("stroke-width",lw).attr("stroke-linejoin","round").attr("stroke-linecap","square");
  });
  g.append("text").attr("x",pw/2).attr("y",-12.5).attr("text-anchor","middle").attr("font-size",titleFs).attr("fill","#000").text(`[${lev} hPa]`);
  if(col===0){const a=g.append("g").call(d3.axisLeft(y).tickValues(yTicks).tickSize(tick).tickPadding(tick));styleAxis(a);}
  if(col===3){const a=g.append("g").attr("transform",`translate(${pw},0)`).call(d3.axisRight(yRight).tickValues(yTicksRight).tickSize(tick).tickPadding(tick));styleAxis(a);}
  if(row===3){
    const a=g.append("g").attr("transform",`translate(0,${ph})`).call(d3.axisBottom(x).tickValues(xTicks).tickFormat(d3.format("d")).tickSize(tick).tickPadding(tick));
    styleAxis(a);
    a.selectAll(".tick text").attr("y",0).attr("dy","0.35em").attr("text-anchor","middle").attr("transform","translate(-3,39) rotate(-45)");
  }
  g.append("rect").attr("width",pw).attr("height",ph).attr("fill","none").attr("stroke","#000").attr("stroke-width",spine);
  if(i===0){
    // first legend, partly covered by the second one drawn over it
    const lg=g.append("g").attr("transform","translate(266,9)");
    lg.append("rect").attr("width",104).attr("height",33).attr("rx",3).attr("fill","#fff").attr("fill-opacity",0.8).attr("stroke","#ccc").attr("stroke-opacity",0.8).attr("stroke-width",1.67);
    lg.append("line").attr("x1",7.5).attr("x2",45).attr("y1",16).attr("y2",16).attr("stroke",seriesColors[0]).attr("stroke-width",lw);
    lg.append("text").attr("x",60).attr("y",23).attr("font-size",legFs).attr("fill","#000").text("Obs");
    const l2=g.append("g").attr("transform","translate(219,9)");
    l2.append("rect").attr("width",151).attr("height",91).attr("rx",3).attr("fill","#fff").attr("fill-opacity",0.8).attr("stroke","#ccc").attr("stroke-opacity",0.8).attr("stroke-width",1.67);
    legendLabels.forEach((t,k)=>{
      const yy=16+k*28.4;
      l2.append("line").attr("x1",7.5).attr("x2",45).attr("y1",yy).attr("y2",yy).attr("stroke",seriesColors[k+1]).attr("stroke-width",lw);
      l2.append("text").attr("x",60).attr("y",yy+6.5).attr("font-size",legFs).attr("fill","#000").text(t);
    });
  }
});
</script></body></html>
